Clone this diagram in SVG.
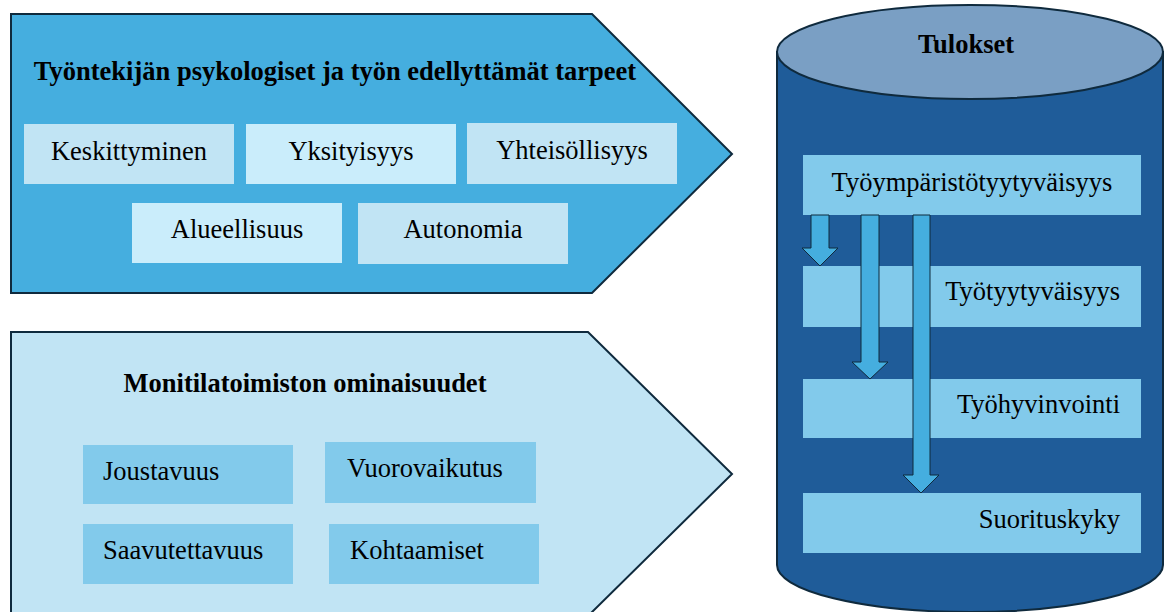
<svg xmlns="http://www.w3.org/2000/svg" width="1165" height="612" viewBox="0 0 1165 612" font-family="Liberation Serif, Times New Roman, serif">
<style>
text{font-family:'Liberation Serif',Tinos,'Times New Roman',Times,'DejaVu Serif',serif;font-size:26.5px;fill:#000}
.b{font-weight:bold}
.m{text-anchor:middle}
.e{text-anchor:end}
.edge{stroke:#0F2A3D;stroke-width:2}
.lt{fill:#C1E4F4}
.lt2{fill:#CAEDFB}
.mid{fill:#82CAEB}
.arr{fill:#45AEDF;stroke:#0F2A3D;stroke-width:1}
</style>
<rect width="1165" height="612" fill="#fff"/>
<g id="needs">
<polygon class="edge" fill="#45AEDF" points="11,14 592,14 732,154 592,293 11,293"/>
<text class="b m" x="335" y="80">Työntekijän psykologiset ja työn edellyttämät tarpeet</text>
</g>
<g id="n-keskittyminen"><rect class="lt" x="24" y="124" width="210" height="60"/><text class="m" x="129" y="160">Keskittyminen</text></g>
<g id="n-yksityisyys"><rect class="lt2" x="246" y="124" width="210" height="60"/><text class="m" x="351" y="160">Yksityisyys</text></g>
<g id="n-yhteisollisyys"><rect class="lt" x="467" y="123" width="210" height="61"/><text class="m" x="572" y="159">Yhteisöllisyys</text></g>
<g id="n-alueellisuus"><rect class="lt2" x="132" y="203" width="210" height="60"/><text class="m" x="237" y="238">Alueellisuus</text></g>
<g id="n-autonomia"><rect class="lt" x="358" y="203" width="210" height="61"/><text class="m" x="463" y="238">Autonomia</text></g>

<g id="features">
<polygon class="edge" fill="#C1E4F4" points="11,332 588,332 732,474 588,616 11,616"/>
<text class="b m" x="305" y="392">Monitilatoimiston ominaisuudet</text>
</g>
<g id="n-joustavuus"><rect class="mid" x="83" y="445" width="210" height="59"/><text x="103" y="480">Joustavuus</text></g>
<g id="n-vuorovaikutus"><rect class="mid" x="325" y="442" width="211" height="61"/><text x="347" y="477">Vuorovaikutus</text></g>
<g id="n-saavutettavuus"><rect class="mid" x="83" y="524" width="210" height="60"/><text x="103" y="559">Saavutettavuus</text></g>
<g id="n-kohtaamiset"><rect class="mid" x="329" y="524" width="210" height="60"/><text x="350" y="559">Kohtaamiset</text></g>

<g id="results">
<path class="edge" fill="#1F5C99" d="M777,52 L777,565 A193,47 0 0 0 1163,565 L1163,52 Z"/>
<ellipse class="edge" fill="#7A9FC4" cx="970" cy="52" rx="193" ry="47"/>
<text class="b m" x="966" y="53">Tulokset</text>
</g>
<g id="r-tyoymparisto"><rect class="mid" x="803" y="155" width="338" height="60"/><text class="m" x="972" y="191">Työympäristötyytyväisyys</text></g>
<g id="r-tyotyytyvaisyys"><rect class="mid" x="803" y="266" width="338" height="61"/><text class="e" x="1120" y="300">Työtyytyväisyys</text></g>
<g id="r-tyohyvinvointi"><rect class="mid" x="803" y="379" width="338" height="59"/><text class="e" x="1120" y="413">Työhyvinvointi</text></g>
<g id="r-suorituskyky"><rect class="mid" x="803" y="493" width="338" height="60"/><text class="e" x="1120" y="528">Suorituskyky</text></g>

<g id="connectors">
<polygon class="arr" points="811,215 829,215 829,248 838,248 820,266 802,248 811,248"/>
<polygon class="arr" points="861,215 879,215 879,362 888,362 870,379 852,362 861,362"/>
<polygon class="arr" points="913,215 930,215 930,475 939,475 921,493 903,475 913,475"/>
</g>
</svg>
